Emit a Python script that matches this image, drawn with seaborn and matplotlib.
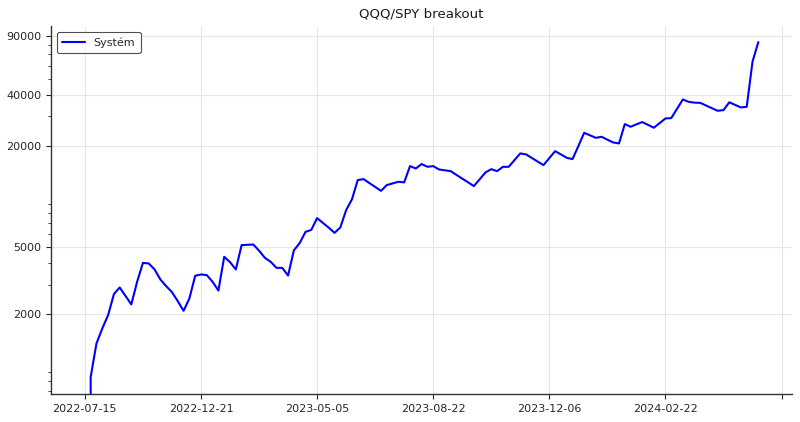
import numpy as np
import pandas as pd
import matplotlib
matplotlib.use("Agg")
import matplotlib.pyplot as plt
import matplotlib.ticker as mticker
import seaborn as sns

# Valeurs (equity par trade)
equity = [
    0, 847, 1340, 1644, 1973, 2630, 2882, 2566, 2285, 3113,
    4036, 4000, 3690, 3216, 2934, 2703, 2389, 2093, 2479, 3379,
    3444, 3411, 3113, 2760, 4383, 4077, 3687, 5144, 5165, 5190,
    4771, 4325, 4094, 3769, 3769, 3389, 4790, 5289, 6164, 6337,
    7447, 6970, 6532, 6085, 6550, 8304, 9616, 12530, 12700, 12030,
    11410, 10810, 11700, 11970, 12240, 12140, 15170, 14690, 15600, 15030,
    15170, 14490, 14320, 14160, 13450, 12780, 12150, 11540, 12660, 13910,
    14550, 14160, 15020, 15020, 16470, 18050, 17800, 16950, 16130, 15380,
    16920, 18620, 17800, 16990, 16700, 19950, 23930, 23120, 22340, 22650,
    21790, 20970, 20690, 26970, 25990, 26870, 27720, 26680, 25640, 27330,
    29130, 29260, 33240, 37780, 36560, 36150, 36060, 34750, 33540, 32340,
    32650, 36330, 35060, 33880, 34140, 63390, 82830,
]
tick_labels = ["2022-07-15", "2022-12-21", "2023-05-05", "2023-08-22",
               "2023-12-06", "2024-02-22", ""]
y_ticks = [2000, 5000, 20000, 40000, 90000]

df = pd.DataFrame({"trade": np.arange(len(equity)), "equity": equity})

sns.set_theme(style="ticks")
plt.rcParams["font.family"] = ["DejaVu Sans"]

fig = plt.figure(figsize=(8, 4.22), dpi=100)
ax = fig.add_axes([0.064, 0.066, 0.926, 0.872])

sns.lineplot(data=df, x="trade", y="equity", color="blue", linewidth=1.5,
             estimator=None, sort=False, label="Systém", ax=ax)
ax.set_yscale("log")

# axe Y : ticks fixes, mineurs sans label
ax.yaxis.set_major_locator(mticker.FixedLocator(y_ticks))
ax.yaxis.set_major_formatter(mticker.FixedFormatter([str(t) for t in y_ticks]))
ax.yaxis.set_minor_locator(mticker.LogLocator(subs=np.arange(2, 10)))
ax.yaxis.set_minor_formatter(mticker.NullFormatter())
ax.set_ylim(669, 103000)

# axe X : index des trades, labels en dates
ax.xaxis.set_major_locator(mticker.FixedLocator(np.arange(0, 121, 20)))
ax.xaxis.set_major_formatter(mticker.FixedFormatter(tick_labels))
ax.set_xlim(-5.8, 121.8)

ax.grid(True, color="#e6e6e6", linewidth=0.8)
ax.set_axisbelow(True)
ax.tick_params(axis="both", labelsize=8, colors="#262626", length=3.5, width=0.8)
ax.tick_params(axis="y", which="minor", length=2, width=0.6)
for s in ["left", "bottom"]:
    ax.spines[s].set_color("#333333")
    ax.spines[s].set_linewidth(1.0)
sns.despine(ax=ax)

ax.set_xlabel("")
ax.set_ylabel("")
ax.set_title("QQQ/SPY breakout", fontsize=9.6, color="#1a1a1a", pad=6)
leg = ax.legend(loc="upper left", fontsize=8, frameon=True, fancybox=True,
                borderpad=0.5, handlelength=2.0)
leg.get_frame().set_edgecolor("#222222")
leg.get_frame().set_linewidth(0.8)

fig.savefig("out.png", dpi=100)
